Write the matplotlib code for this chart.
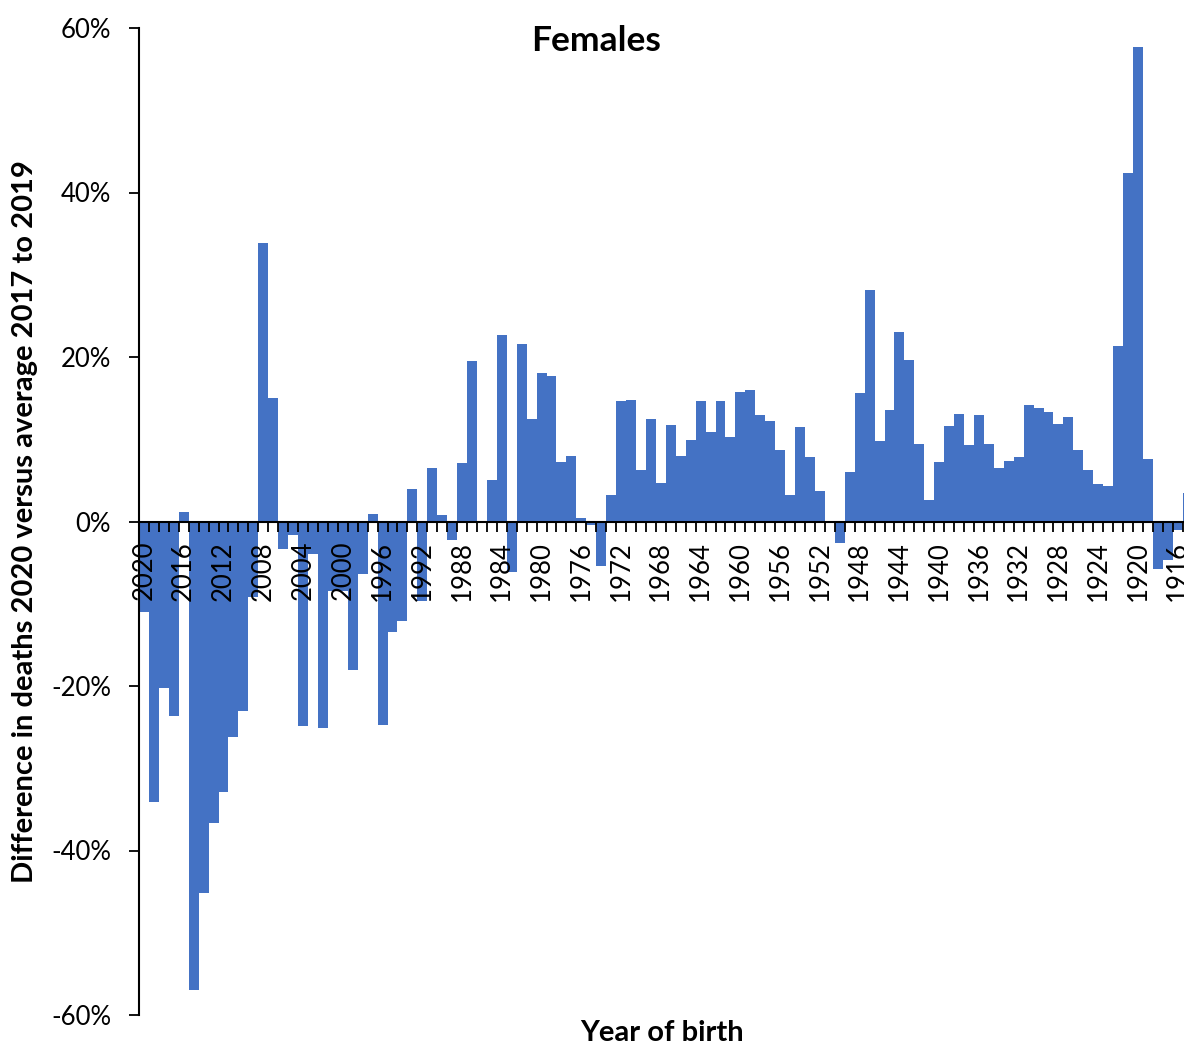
import matplotlib
matplotlib.use('Agg')
import matplotlib.pyplot as plt

plt.rcParams['font.family'] = ['Lato', 'DejaVu Sans']

# Year of birth (categories), newest on the left
years = list(range(2020, 1914, -1))

# Difference in deaths 2020 vs average 2017-2019, in %
values = [
    -11.0, -34.1, -20.3, -23.6, 1.1, -56.9, -45.2, -36.7, -32.9, -26.2,   # 2020-2011
    -23.0, -9.2, 33.9, 15.0, -3.3, -1.6, -24.9, -3.9, -25.1, -8.5,        # 2010-2001
    -8.5, -18.0, -6.4, 0.9, -24.7, -13.4, -12.1, 3.9, -9.7, 6.5,          # 2000-1991
    0.8, -2.2, 7.1, 19.5, 0.0, 5.1, 22.7, -6.2, 21.6, 12.5,               # 1990-1981
    18.1, 17.7, 7.2, 8.0, 0.4, -0.4, -5.4, 3.2, 14.6, 14.8,               # 1980-1971
    6.3, 12.5, 4.7, 11.7, 8.0, 9.9, 14.6, 10.9, 14.6, 10.3,               # 1970-1961
    15.7, 16.0, 13.0, 12.2, 8.7, 3.2, 11.5, 7.9, 3.7, 0.0,                # 1960-1951
    -2.6, 6.0, 15.6, 28.1, 9.8, 13.5, 23.0, 19.6, 9.4, 2.6,               # 1950-1941
    7.2, 11.6, 13.1, 9.3, 13.0, 9.4, 6.5, 7.3, 7.8, 14.2,                 # 1940-1931
    13.8, 13.3, 11.8, 12.7, 8.7, 6.3, 4.6, 4.3, 21.3, 42.4,               # 1930-1921
    57.7, 7.6, -5.8, -4.7, -1.0, 3.5,                                     # 1920-1915
]

y_ticks = [-60, -40, -20, 0, 20, 40, 60]
y_tick_labels = ['-60%', '-40%', '-20%', '0%', '20%', '40%', '60%']

fig = plt.figure(figsize=(11.84, 10.5), dpi=100)
ax = fig.add_axes([139 / 1184, 35 / 1050, 1045 / 1184, 987 / 1050])

ax.bar(years, values, width=1.0, color='#4472C4', edgecolor='none')

# axes: x axis crosses at 0, years run right to left
ax.set_xlim(2020.5, 1915.37)
ax.set_ylim(-60, 60)
ax.spines['top'].set_visible(False)
ax.spines['right'].set_visible(False)
ax.spines['bottom'].set_position(('data', 0))
ax.spines['bottom'].set_linewidth(1.5)
ax.spines['left'].set_linewidth(1.5)

# tick marks between categories, labels every 4 years
ax.set_xticks([y + 0.5 for y in years])
ax.set_xticklabels([])
ax.tick_params(axis='x', which='major', length=7, width=1.3, direction='out')
label_years = [y for y in years if y % 4 == 0]
ax.set_xticks(label_years, minor=True)
ax.set_xticklabels([str(y) for y in label_years], minor=True, rotation=90, va='top')
ax.tick_params(axis='x', which='minor', length=0, pad=14, labelsize=18.5)

ax.set_yticks(y_ticks)
ax.set_yticklabels(y_tick_labels)
ax.tick_params(axis='y', length=7, width=1.3, pad=13, labelsize=18.5)

ax.set_ylabel('Difference in deaths 2020 versus average 2017 to 2019',
              fontsize=21, fontweight='bold')
ax.yaxis.set_label_coords(-0.097, 0.5)
ax.set_xlabel('Year of birth', fontsize=21, fontweight='bold')
ax.xaxis.set_label_coords(0.5, -0.005)

fig.text(596 / 1184, 1 - 41 / 1050, 'Females', ha='center', va='center',
         fontsize=25.5, fontweight='bold')

fig.savefig('out.png', dpi=100)
